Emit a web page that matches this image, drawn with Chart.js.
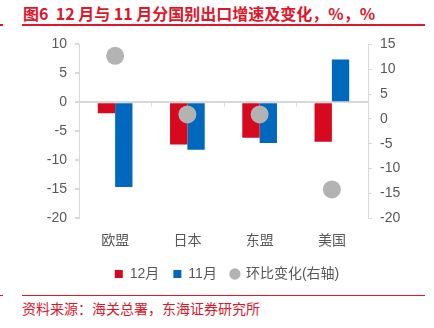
<!DOCTYPE html>
<html>
<head>
<meta charset="utf-8">
<script src="https://cdn.jsdelivr.net/npm/chart.js@4/dist/chart.umd.min.js"></script>
<style>
  body { margin: 0; background: #fff; width: 434px; height: 328px; overflow: hidden; position: relative; }
  .title { position: absolute; left: 23px; top: 3px; font: bold 16px "Noto Sans CJK SC", "Liberation Sans", sans-serif; color: #e0162b; white-space: pre; line-height: 20px; }
  .rule { position: absolute; height: 2px; background: #e0162b; }
  .source { position: absolute; left: 22px; top: 298px; font: 14px "Noto Sans CJK SC", sans-serif; color: #e0162b; line-height: 20px; }
  #wrap { position: absolute; left: 0; top: 28px; width: 434px; height: 264px; }
</style>
</head>
<body>
<div class="title">图6  12 月与 11 月分国别出口增速及变化，%，%</div>
<div class="rule" style="left:0;top:24px;width:3px;"></div>
<div class="rule" style="left:22px;top:24px;width:403px;"></div>
<div id="wrap"><canvas id="exportChart"></canvas></div>
<div class="rule" style="left:0;top:295px;width:3px;height:1px;"></div>
<div class="rule" style="left:22px;top:295px;width:403px;height:1px;"></div>
<div class="source">资料来源：海关总署，东海证券研究所</div>
<script>
const regions = ["欧盟", "日本", "东盟", "美国"];
const dec = [-1.9, -7.3, -6.1, -6.8];
const nov = [-14.6, -8.2, -7.0, 7.4];
const momChange = [12.7, 0.9, 0.9, -14.2];

const RED = "#d7091f";
const BLUE = "#0068bd";
const GREY = "#b3b3b3";
const AXIS = "#d9d9d9";
const TEXT = "#595959";
const FONT = '"Liberation Sans", "Noto Sans CJK SC", sans-serif';

// short tick marks between categories, hanging from the zero line
const categoryTicks = {
  id: "categoryTicks",
  afterDatasetsDraw(chart) {
    const x = chart.scales.x;
    const y0 = chart.scales.y.getPixelForValue(0);
    const ctx = chart.ctx;
    ctx.save();
    ctx.strokeStyle = AXIS;
    ctx.lineWidth = 1;
    for (let i = 0; i < regions.length - 1; i++) {
      const px = Math.round((x.getPixelForValue(i) + x.getPixelForValue(i + 1)) / 2) + 0.5;
      ctx.beginPath();
      ctx.moveTo(px, y0);
      ctx.lineTo(px, y0 + 4);
      ctx.stroke();
    }
    ctx.restore();
  },
};

const ctx = document.getElementById("exportChart");
// eslint-disable-next-line no-unused-vars
const myChart = new Chart(ctx, {
  type: "bar",
  data: {
    labels: regions,
    datasets: [
      {
        type: "line",
        label: "环比变化(右轴)",
        data: momChange,
        yAxisID: "y1",
        showLine: false,
        pointStyle: "circle",
        pointRadius: 9,
        pointBackgroundColor: GREY,
        pointBorderWidth: 0,
        backgroundColor: GREY,
        borderColor: GREY,
        order: 0,
      },
      {
        label: "12月",
        data: dec,
        backgroundColor: RED,
        yAxisID: "y",
        categoryPercentage: 0.48,
        barPercentage: 1,
        order: 1,
      },
      {
        label: "11月",
        data: nov,
        backgroundColor: BLUE,
        yAxisID: "y",
        categoryPercentage: 0.48,
        barPercentage: 1,
        order: 1,
      },
    ],
  },
  options: {
    responsive: true,
    maintainAspectRatio: false,
    animation: false,
    layout: { padding: { top: 12, left: 20, right: 0, bottom: 1 } },
    plugins: {
      tooltip: { enabled: false },
      legend: {
        position: "bottom",
        labels: {
          usePointStyle: true,
          boxWidth: 8,
          boxHeight: 8,
          padding: 14,
          color: TEXT,
          font: { family: FONT, size: 14 },
          sort: (a, b) => a.datasetIndex === 0 ? 1 : b.datasetIndex === 0 ? -1 : a.datasetIndex - b.datasetIndex,
          generateLabels(chart) {
            return chart.data.datasets.map((ds, i) => ({
              text: ds.label,
              fillStyle: ds.backgroundColor,
              strokeStyle: ds.backgroundColor,
              lineWidth: 0,
              pointStyle: ds.type === "line" ? "circle" : "rect",
              datasetIndex: i,
              fontColor: TEXT,
            }));
          },
        },
      },
    },
    scales: {
      x: {
        grid: { display: false },
        border: { display: false },
        ticks: { color: TEXT, font: { family: '"Noto Sans CJK SC", sans-serif', size: 14 }, padding: 5 },
      },
      y: {
        position: "left",
        min: -20,
        max: 10,
        ticks: { stepSize: 5, color: TEXT, font: { family: FONT, size: 14 }, padding: 8 },
        grid: {
          color: (c) => (c.tick && c.tick.value === 0 ? AXIS : "rgba(0,0,0,0)"),
          tickColor: AXIS,
          tickLength: 4,
          lineWidth: 2,
        },
        border: { display: true, color: AXIS, width: 1 },
        afterFit(scale) { scale.width = 59; },
      },
      y1: {
        position: "right",
        min: -20,
        max: 15,
        ticks: { stepSize: 5, color: TEXT, font: { family: FONT, size: 14 }, padding: 8 },
        grid: { drawOnChartArea: false, tickColor: AXIS, tickLength: 4 },
        border: { display: true, color: AXIS, width: 1 },
        afterFit(scale) { scale.width = 66; },
      },
    },
  },
  plugins: [categoryTicks],
});
</script>
</body>
</html>
